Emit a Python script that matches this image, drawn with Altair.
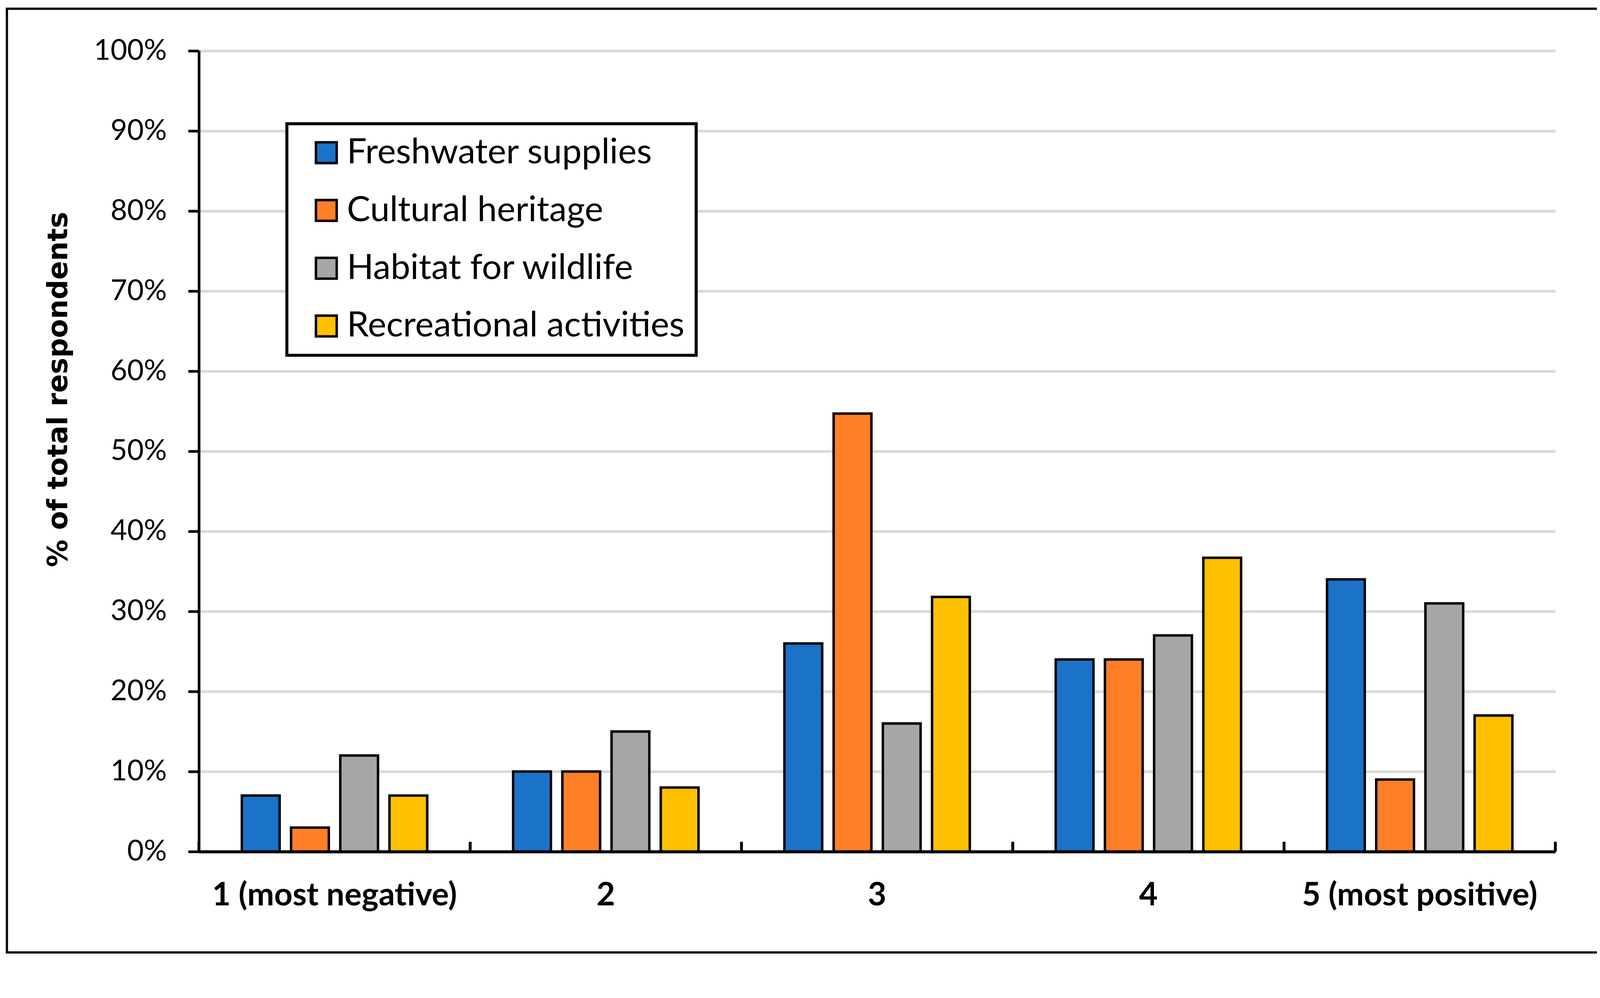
import altair as alt
import pandas as pd

categories = ["1 (most negative)", "2", "3", "4", "5 (most positive)"]
series = ["Freshwater supplies", "Cultural heritage", "Habitat for wildlife", "Recreational activities"]
freshwater = [7, 10, 26, 24, 34]
cultural = [3, 10, 54.7, 24, 9]
habitat = [12, 15, 16, 27, 31]
recreational = [7, 8, 31.8, 36.7, 17]
colors = ["#1a73c8", "#ff7f27", "#a6a6a6", "#ffc000"]
y_ticks = [0, 10, 20, 30, 40, 50, 60, 70, 80, 90, 100]

rows = []
for s, vals in zip(series, [freshwater, cultural, habitat, recreational]):
    for c, v in zip(categories, vals):
        rows.append({"category": c, "series": s, "value": v})
df = pd.DataFrame(rows)
cat_df = pd.DataFrame({"category": categories})

W = 3592.5
H = 2120
TOP = 84

x_scale = alt.Scale(paddingInner=0, paddingOuter=0)

bars = alt.Chart(df).mark_bar(stroke="black", strokeWidth=6.5).encode(
    x=alt.X("category:N", sort=categories, scale=x_scale,
            axis=alt.Axis(title=None, labelAngle=0, labelFont="Lato", labelFontWeight="bold",
                          labelFontSize=85, labelColor="black", labelPadding=75, labelLimit=2000,
                          ticks=False, tickSize=0, domainColor="black", domainWidth=8,
                          grid=False, zindex=1)),
    xOffset=alt.XOffset("series:N", sort=series,
                        scale=alt.Scale(paddingInner=0.2325, paddingOuter=0.873)),
    y=alt.Y("value:Q", scale=alt.Scale(domain=[0, 100], nice=False),
            axis=alt.Axis(values=y_ticks, labelExpr="datum.value + '%'", labelFont="Lato",
                          labelFontSize=76, labelColor="black", labelPadding=57, labelLimit=2000,
                          tickSize=28.5, tickWidth=7, tickColor="black",
                          domainColor="black", domainWidth=7,
                          grid=True, gridColor="#d9d9d9", gridWidth=7,
                          title="% of total respondents", titleFont="DejaVu Sans",
                          titleFontWeight="bold", titleFontSize=73, titleColor="black",
                          titleAngle=270, titleX=-371.5, titleY=896, titleLimit=3000,
                          titleAlign="center", titleBaseline="middle")),
    color=alt.Color("series:N", sort=series,
                    scale=alt.Scale(domain=series, range=colors),
                    legend=alt.Legend(title=None, orient="none", legendX=233, legendY=193,
                                      direction="vertical", strokeColor="black",
                                      fillColor="white", padding=30, symbolType="square",
                                      symbolSize=3025, symbolStrokeColor="black",
                                      symbolStrokeWidth=6.5, symbolOffset=28,
                                      labelFont="Lato", labelFontSize=93, labelColor="black",
                                      labelExpr="datum.label + '\u2009'",
                                      labelOffset=8, rowPadding=59, labelLimit=2000)),
)

ticks = alt.Chart(cat_df).mark_rule(color="black", strokeWidth=7.6).encode(
    x=alt.X("category:N", sort=categories, bandPosition=0, scale=x_scale),
    y=alt.value(H - 26),
    y2=alt.value(H),
)

end_tick = alt.Chart(pd.DataFrame({"k": [0]})).mark_rule(color="black", strokeWidth=7.6).encode(
    x=alt.value(W), y=alt.value(H - 26), y2=alt.value(H)
)

border = alt.Chart(pd.DataFrame({"k": [0]})).mark_rect(
    fillOpacity=0, stroke="black", strokeWidth=6
).encode(
    x=alt.value(18 - 526.5), x2=alt.value(4233 - 526.5),
    y=alt.value(26.5 - 138), y2=alt.value(2525 - 138),
)

chart = alt.layer(border, bars, ticks, end_tick).properties(
    width=W, height=H,
    autosize=alt.AutoSizeParams(type="none"),
    padding={"left": 518.5, "top": TOP, "right": 110, "bottom": 250},
    background="white",
).configure_view(stroke="transparent").configure_legend(strokeWidth=8)

chart.save("out.html", embed_options={"renderer": "svg", "actions": False})
